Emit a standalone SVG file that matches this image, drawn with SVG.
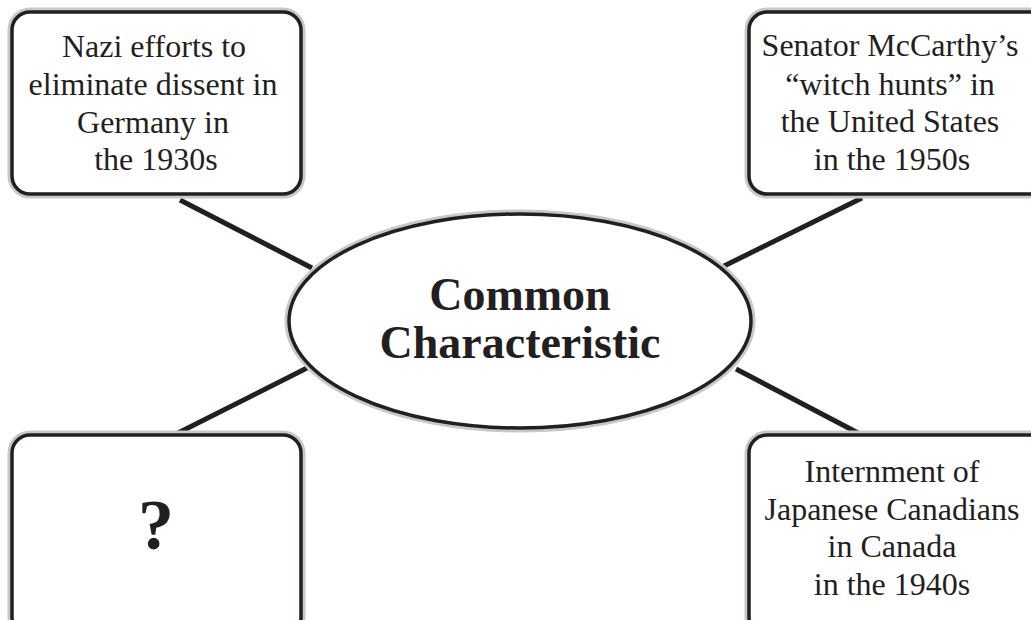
<svg xmlns="http://www.w3.org/2000/svg" width="1031" height="620" viewBox="0 0 1031 620">
<style>
.halo{fill:none;stroke:#c8c8c8;stroke-width:9}
.box{fill:#fff;stroke:#231f20;stroke-width:3.5}
.conn{stroke:#231f20;stroke-width:5;stroke-linecap:butt}
.t{font-family:"Liberation Serif","Times New Roman",serif;font-size:32px;fill:#231f20;text-anchor:middle}
.b{font-family:"Liberation Serif","Times New Roman",serif;font-weight:bold;fill:#231f20;text-anchor:middle}
</style>
<rect width="1031" height="620" fill="#fff"/>
<g id="connectors">
<line class="conn" x1="180" y1="200" x2="312" y2="268"/>
<line class="conn" x1="862" y1="198" x2="724" y2="266"/>
<line class="conn" x1="307" y1="368" x2="176" y2="434"/>
<line class="conn" x1="736" y1="369" x2="860" y2="434"/>
</g>
<g id="center">
<ellipse class="halo" cx="520" cy="321" rx="231" ry="107"/>
<ellipse class="box" cx="520" cy="321" rx="231" ry="107"/>
<text class="b" x="520" y="310" font-size="46">Common</text>
<text class="b" x="520" y="358" font-size="46">Characteristic</text>
</g>
<g id="nazi">
<rect class="halo" x="12" y="12" width="289" height="182" rx="18"/>
<rect class="box" x="12" y="12" width="289" height="182" rx="18"/>
<text class="t" x="154" y="57">Nazi efforts to</text>
<text class="t" x="153" y="95">eliminate dissent in</text>
<text class="t" x="153" y="133">Germany in</text>
<text class="t" x="156" y="170">the 1930s</text>
</g>
<g id="mccarthy">
<rect class="halo" x="749" y="12" width="300" height="182" rx="18"/>
<rect class="box" x="749" y="12" width="300" height="182" rx="18"/>
<text class="t" x="890" y="56">Senator McCarthy’s</text>
<text class="t" x="890" y="95">“witch hunts” in</text>
<text class="t" x="890" y="132">the United States</text>
<text class="t" x="892" y="170">in the 1950s</text>
</g>
<g id="unknown">
<rect class="halo" x="12" y="435" width="289" height="200" rx="18"/>
<rect class="box" x="12" y="435" width="289" height="200" rx="18"/>
<text class="b" x="156" y="549" font-size="72">?</text>
</g>
<g id="internment">
<rect class="halo" x="749" y="435" width="300" height="200" rx="18"/>
<rect class="box" x="749" y="435" width="300" height="200" rx="18"/>
<text class="t" x="892" y="482">Internment of</text>
<text class="t" x="892" y="520">Japanese Canadians</text>
<text class="t" x="892" y="557">in Canada</text>
<text class="t" x="892" y="595">in the 1940s</text>
</g>
</svg>
